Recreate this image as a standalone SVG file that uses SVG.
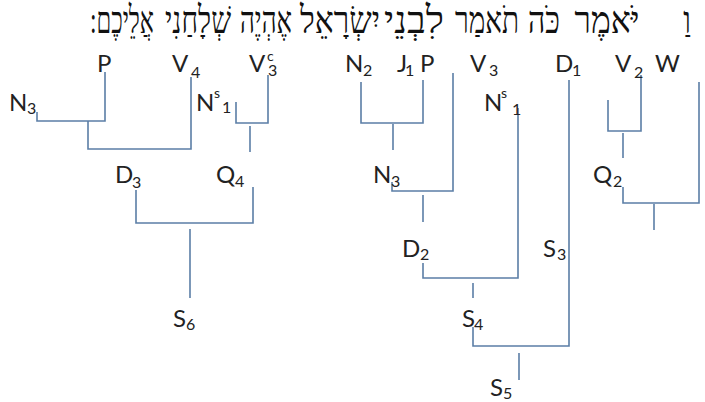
<svg xmlns="http://www.w3.org/2000/svg" width="705" height="402" viewBox="0 0 705 402">
<style>
.lbl{font-family:Lato,"Liberation Sans",sans-serif;font-size:24px;fill:#222}
.sub{font-size:16px}
.sup{font-size:14px}
.heb{font-family:"Liberation Serif","DejaVu Serif",serif;font-size:30px;fill:#111;direction:rtl;text-anchor:middle}
.ln{fill:none;stroke:#5b7ea6;stroke-width:1.6}
</style>
<rect width="705" height="402" fill="#fff"/>
<g id="hebrew" transform="translate(0,33) scale(1,1.25)">
<text class="heb" x="687" y="0">וַ</text>
<text class="heb" x="607" y="0" textLength="65" lengthAdjust="spacingAndGlyphs">יֹּאמֶר</text>
<text class="heb" x="544" y="0" textLength="32" lengthAdjust="spacingAndGlyphs">כֹּה</text>
<text class="heb" x="487" y="0" textLength="64" lengthAdjust="spacingAndGlyphs">תֹאמַר</text>
<text class="heb" x="414" y="0" textLength="60" lengthAdjust="spacingAndGlyphs">לִבְנֵי</text>
<text class="heb" x="340" y="0" textLength="80" lengthAdjust="spacingAndGlyphs">יִשְׂרָאֵל</text>
<text class="heb" x="266" y="0" textLength="52" lengthAdjust="spacingAndGlyphs">אֶהְיֶה</text>
<text class="heb" x="198" y="0" textLength="66" lengthAdjust="spacingAndGlyphs">שְׁלָחַנִי</text>
<text class="heb" x="122" y="0" textLength="64" lengthAdjust="spacingAndGlyphs">אֲלֵיכֶם:</text>
</g>
<g id="connectors">
<path class="ln" d="M37 112V121H105V72"/>
<path class="ln" d="M88 121V149H191V77"/>
<path class="ln" d="M236 102V123H268V75"/>
<path class="ln" d="M250 126V152"/>
<path class="ln" d="M136 190V223H253V187"/>
<path class="ln" d="M190 229V298"/>
<path class="ln" d="M361 82V123H423V80"/>
<path class="ln" d="M393 124V150"/>
<path class="ln" d="M392 182V191H453V73"/>
<path class="ln" d="M423 195V222"/>
<path class="ln" d="M423 263V278H518V108"/>
<path class="ln" d="M473 283V298"/>
<path class="ln" d="M473 327V346H569V80"/>
<path class="ln" d="M519 353V380"/>
<path class="ln" d="M608 100V131H641V75"/>
<path class="ln" d="M623 133V158"/>
<path class="ln" d="M623 187V203H699V82"/>
<path class="ln" d="M654 204V230"/>
</g>
<g id="P_a"><text class="lbl" x="97" y="72">P</text></g>
<g id="V4"><text class="lbl" x="172" y="72">V<tspan class="sub" x="191" y="78">4</tspan></text></g>
<g id="Vc3"><text class="lbl" x="249" y="72">V<tspan class="sup" x="267" y="61">c</tspan><tspan class="sub" x="268" y="76">3</tspan></text></g>
<g id="N2"><text class="lbl" x="345" y="72">N<tspan class="sub" x="363" y="76">2</tspan></text></g>
<g id="J1"><text class="lbl" x="397" y="72">J<tspan class="sub" x="405" y="76">1</tspan></text></g>
<g id="P_b"><text class="lbl" x="420" y="72">P</text></g>
<g id="V3"><text class="lbl" x="470" y="72">V<tspan class="sub" x="489" y="76">3</tspan></text></g>
<g id="D1"><text class="lbl" x="555" y="72">D<tspan class="sub" x="572" y="76">1</tspan></text></g>
<g id="V2"><text class="lbl" x="615" y="72">V<tspan class="sub" x="634" y="78">2</tspan></text></g>
<g id="W"><text class="lbl" x="655" y="72">W</text></g>
<g id="N3_a"><text class="lbl" x="9" y="111">N<tspan class="sub" x="27" y="114">3</tspan></text></g>
<g id="Ns1_a"><text class="lbl" x="196" y="111">N<tspan class="sup" x="214" y="98">s</tspan><tspan class="sub" x="222" y="113">1</tspan></text></g>
<g id="Ns1_b"><text class="lbl" x="484" y="111">N<tspan class="sup" x="501" y="98">s</tspan><tspan class="sub" x="512" y="115">1</tspan></text></g>
<g id="D3"><text class="lbl" x="115" y="183">D<tspan class="sub" x="132" y="188">3</tspan></text></g>
<g id="Q4"><text class="lbl" x="216" y="183">Q<tspan class="sub" x="235" y="187">4</tspan></text></g>
<g id="N3_b"><text class="lbl" x="373" y="183">N<tspan class="sub" x="391" y="187">3</tspan></text></g>
<g id="Q2"><text class="lbl" x="593" y="183">Q<tspan class="sub" x="613" y="187">2</tspan></text></g>
<g id="D2"><text class="lbl" x="402" y="257">D<tspan class="sub" x="420" y="260">2</tspan></text></g>
<g id="S3"><text class="lbl" x="543" y="257">S<tspan class="sub" x="557" y="260">3</tspan></text></g>
<g id="S6"><text class="lbl" x="173" y="327">S<tspan class="sub" x="186" y="330">6</tspan></text></g>
<g id="S4"><text class="lbl" x="462" y="327">S<tspan class="sub" x="474" y="330">4</tspan></text></g>
<g id="S5"><text class="lbl" x="490" y="396">S<tspan class="sub" x="503" y="399">5</tspan></text></g>
</svg>
